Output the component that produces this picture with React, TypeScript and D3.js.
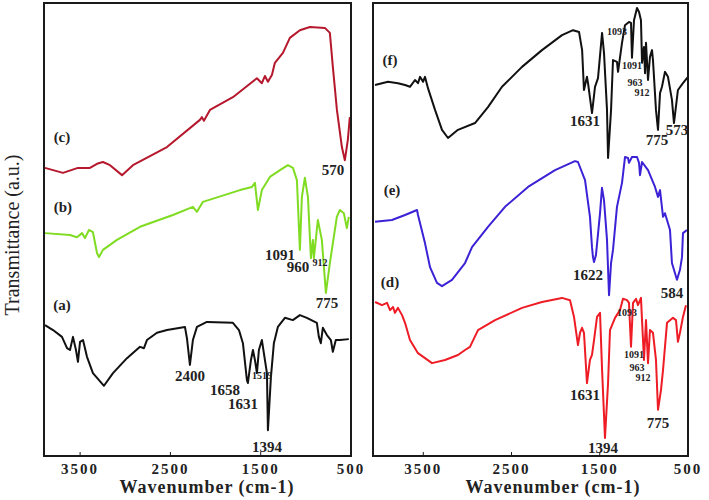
import React from "react";
import * as d3 from "d3";

// ---- data: [wavenumber (cm-1), transmittance (a.u.)] ----
const specC: [number, number][] = [
  [3889, 63.6], [3690, 62.5], [3524, 63.6], [3391, 63.6], [3313, 64.5], [3247, 64.9], [3169, 64.2],
  [3036, 62.0], [2915, 64.2], [2538, 68.2], [2173, 74.2], [2151, 74.8], [2129, 74.0], [2062, 76.4],
  [1808, 79.2], [1542, 83.4], [1487, 82.3], [1453, 83.9], [1420, 82.6], [1376, 84.1], [1343, 86.8],
  [1254, 89.0], [1177, 92.3], [1066, 94.0], [955, 94.7], [789, 94.5], [734, 93.4], [701, 85.9],
  [656, 76.4], [601, 68.2], [568, 65.3], [535, 69.8], [513, 74.8],
];
const specB: [number, number][] = [
  [3889, 49.2], [3612, 48.8], [3535, 48.3], [3479, 49.2], [3446, 48.1], [3402, 49.9], [3358, 49.4],
  [3313, 44.8], [3291, 43.9], [3247, 45.5], [3092, 47.7], [2837, 50.6], [2472, 53.2], [2251, 55.0],
  [2206, 53.9], [2140, 56.1], [1730, 58.7], [1597, 59.4], [1564, 60.3], [1531, 54.3], [1487, 58.7],
  [1398, 61.6], [1287, 63.1], [1199, 64.2], [1143, 63.6], [1099, 60.9], [1066, 45.5], [1044, 57.2],
  [1011, 61.4], [977, 57.2], [944, 43.7], [922, 47.7], [911, 43.7], [867, 52.1], [823, 47.7],
  [778, 36.0], [734, 42.6], [657, 52.8], [623, 54.3], [579, 53.6], [546, 50.3], [524, 52.8],
];
const specA: [number, number][] = [
  [3889, 28.9], [3800, 27.8], [3701, 26.3], [3645, 23.8], [3612, 23.4], [3579, 26.3], [3546, 23.4],
  [3524, 20.8], [3501, 25.2], [3468, 25.6], [3424, 21.9], [3358, 18.3], [3236, 15.5], [3136, 18.3],
  [2981, 21.6], [2837, 24.1], [2793, 23.8], [2760, 25.6], [2649, 27.2], [2538, 27.8], [2339, 28.5],
  [2317, 26.0], [2284, 20.1], [2251, 25.6], [2206, 28.5], [2096, 29.6], [1808, 29.4], [1741, 27.8],
  [1697, 24.9], [1653, 16.8], [1642, 16.1], [1608, 21.2], [1586, 23.4], [1564, 21.2], [1542, 18.3],
  [1520, 23.4], [1487, 25.6], [1465, 22.7], [1431, 18.3], [1420, 5.7], [1387, 17.4], [1354, 24.9],
  [1310, 28.5], [1232, 30.5], [1144, 30.0], [1066, 31.1], [989, 30.5], [878, 29.4], [856, 26.3],
  [834, 24.9], [812, 28.3], [767, 26.7], [723, 25.6], [701, 23.0], [668, 25.6], [623, 25.6], [524, 25.8],
];
const specF: [number, number][] = [
  [4047, 81.9], [3900, 82.6], [3787, 82.3], [3707, 81.9], [3651, 81.5], [3594, 83.0], [3560, 82.3],
  [3537, 83.7], [3503, 82.6], [3481, 83.7], [3447, 81.2], [3367, 76.4], [3288, 72.0], [3220, 70.2],
  [3107, 72.0], [2914, 73.5], [2767, 77.0], [2608, 81.5], [2381, 85.9], [2155, 89.6], [1928, 92.9],
  [1803, 94.0], [1735, 93.6], [1700, 89.6], [1679, 80.8], [1645, 83.7], [1633, 82.3], [1588, 75.7],
  [1554, 81.5], [1520, 83.4], [1474, 93.4], [1452, 89.0], [1418, 76.4], [1406, 65.8], [1372, 76.4],
  [1350, 87.4], [1305, 87.0], [1293, 84.8], [1248, 91.2], [1214, 95.1], [1169, 95.8], [1146, 95.6],
  [1135, 87.9], [1112, 96.2], [1078, 98.9], [1055, 98.0], [1033, 96.2], [1021, 86.8], [999, 90.3],
  [987, 84.5], [976, 91.2], [953, 83.0], [931, 88.1], [908, 89.6], [897, 87.4], [863, 76.4],
  [840, 72.0], [817, 80.1], [795, 81.5], [761, 84.8], [727, 83.7], [682, 78.6], [659, 73.5],
  [614, 80.8], [557, 82.3], [500, 83.7],
];
const specE: [number, number][] = [
  [4047, 51.7], [3855, 52.1], [3707, 53.2], [3571, 54.3], [3560, 53.2], [3481, 47.0], [3424, 41.7],
  [3345, 38.2], [3288, 37.5], [3175, 38.9], [3027, 42.6], [2948, 46.1], [2767, 50.6], [2574, 55.0],
  [2313, 59.4], [2007, 63.1], [1781, 65.1], [1747, 64.9], [1667, 60.9], [1611, 52.8], [1588, 46.1],
  [1577, 43.9], [1565, 42.8], [1543, 44.4], [1497, 53.6], [1475, 59.2], [1452, 56.5], [1418, 47.7],
  [1395, 35.5], [1372, 42.6], [1350, 45.5], [1305, 55.0], [1248, 60.3], [1214, 66.0], [1180, 65.8],
  [1169, 64.7], [1135, 66.0], [1078, 66.0], [1055, 64.7], [1044, 62.0], [1021, 64.9], [953, 63.1],
  [874, 59.4], [840, 57.2], [817, 58.7], [783, 52.8], [761, 53.6], [704, 49.9], [682, 42.6],
  [625, 38.9], [591, 41.1], [568, 43.9], [557, 49.2], [512, 49.9],
];
const specD: [number, number][] = [
  [4047, 34.0], [3968, 33.3], [3911, 33.8], [3877, 32.2], [3843, 32.9], [3821, 31.6], [3787, 32.7],
  [3741, 31.1], [3707, 29.4], [3651, 25.6], [3560, 22.7], [3401, 20.5], [3254, 21.2], [3107, 22.3],
  [3027, 23.4], [2971, 24.1], [2880, 27.8], [2687, 30.0], [2381, 32.7], [2155, 34.0], [1928, 34.9],
  [1837, 34.4], [1792, 30.7], [1747, 24.5], [1724, 27.2], [1701, 28.3], [1679, 27.2], [1645, 16.1],
  [1611, 21.2], [1588, 22.3], [1565, 25.6], [1531, 30.7], [1497, 31.6], [1475, 19.6], [1441, 4.0],
  [1406, 16.1], [1384, 27.8], [1327, 30.5], [1271, 32.2], [1237, 34.7], [1191, 34.4], [1169, 33.8],
  [1146, 24.1], [1123, 33.8], [1089, 34.7], [1067, 33.3], [1033, 34.9], [1021, 30.0], [999, 21.2],
  [976, 30.0], [953, 20.5], [931, 27.8], [897, 27.2], [863, 21.2], [840, 10.2], [806, 14.6],
  [783, 19.0], [738, 29.4], [670, 30.5], [636, 30.0], [614, 25.2], [591, 27.2], [557, 30.7], [523, 33.3],
];

const tickValues = [3500, 2500, 1500, 500];

// annotations: [wavenumber, value, text, small?]
type Ann = [number, number, string, boolean];
const leftAnn: Ann[] = [
  [3701, 69.3, "(c)", false], [3690, 53.9, "(b)", false], [3701, 32.2, "(a)", false],
  [700, 62.0, "570", false], [1287, 43.3, "1091", false], [1088, 40.6, "960", false],
  [844, 41.9, "912", true], [767, 32.7, "775", false], [2284, 16.6, "2400", false],
  [1896, 13.5, "1658", false], [1696, 10.4, "1631", false], [1486, 17.0, "1519", true],
  [1431, 0.9, "1394", false],
];
const rightAnn: Ann[] = [
  [3877, 86.3, "(f)", false], [1667, 72.8, "1631", false], [1305, 92.9, "1093", true],
  [1135, 85.4, "1091", true], [1101, 81.7, "963", true], [1021, 79.5, "912", true],
  [851, 68.7, "775", false], [625, 70.9, "573", false], [3855, 57.6, "(e)", false],
  [1633, 38.9, "1622", false], [681, 34.9, "584", false], [3877, 37.3, "(d)", false],
  [1191, 30.9, "1093", true], [1112, 21.6, "1091", true], [1078, 18.8, "963", true],
  [1010, 16.6, "912", true], [1667, 12.4, "1631", false], [1463, 0.7, "1394", false],
  [840, 6.2, "775", false],
];

const W = 709, H = 500;
const TOP = 3, BOTTOM = 456;
const y = d3.scaleLinear().domain([0, 100]).range([BOTTOM, TOP]);
const xL = d3.scaleLinear().domain([3900, 500]).range([44, 351]);
const xR = d3.scaleLinear().domain([4070, 500]).range([373, 688]);

const FONT = "'Liberation Serif', 'DejaVu Serif', serif";

function Panel({ x, series, ann, labelX }: {
  x: d3.ScaleLinear<number, number>;
  series: { data: [number, number][]; color: string }[];
  ann: Ann[];
  labelX: number;
}) {
  const [x0, x1] = x.range();
  const line = d3.line<[number, number]>().x((d) => x(d[0])).y((d) => y(d[1]));
  return (
    <g>
      {series.map((s, i) => (
        <path key={i} d={line(s.data) || ""} fill="none" stroke={s.color} strokeWidth={2}
          strokeLinejoin="round" />
      ))}
      <rect x={x0} y={TOP} width={x1 - x0} height={BOTTOM - TOP} fill="none" stroke="#1a1a1a" strokeWidth={2} />
      {tickValues.map((t) => (
        <g key={t}>
          <line x1={x(t)} x2={x(t)} y1={BOTTOM} y2={BOTTOM - 4} stroke="#1a1a1a" strokeWidth={1} />
          <text x={x(t)} y={474} textAnchor="middle" fontFamily={FONT} fontWeight="bold"
            fontSize={15} letterSpacing={2} fill="#222">{t}</text>
        </g>
      ))}
      {ann.map(([w, v, t, small], i) => (
        <text key={i} x={x(w)} y={y(v)} textAnchor="middle" fontFamily={FONT} fontWeight="bold"
          fontSize={small ? 10 : 15} fill="#222">{t}</text>
      ))}
      <text x={labelX} y={493} textAnchor="middle" fontFamily={FONT} fontWeight="bold" fontSize={18}
        letterSpacing={1} fill="#222">Wavenumber (cm-1)</text>
    </g>
  );
}

export default function App() {
  return (
    <svg width={W} height={H} style={{ position: "absolute", left: 0, top: 0, background: "#fff" }}>
      <Panel x={xL} labelX={207} ann={leftAnn}
        series={[
          { data: specC, color: "#b5182c" },
          { data: specB, color: "#7fdc22" },
          { data: specA, color: "#111111" },
        ]} />
      <Panel x={xR} labelX={553} ann={rightAnn}
        series={[
          { data: specF, color: "#111111" },
          { data: specE, color: "#3c22d6" },
          { data: specD, color: "#ee1c25" },
        ]} />
      <text transform="translate(19,235) rotate(-90)" textAnchor="middle" fontFamily={FONT}
        fontSize={20} fill="#222">Transmittance (a.u.)</text>
    </svg>
  );
}
